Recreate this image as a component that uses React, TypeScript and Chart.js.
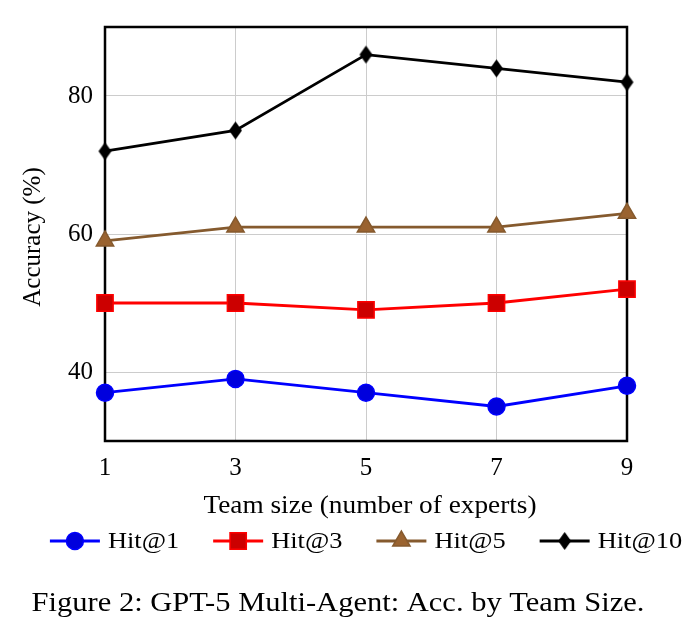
import { useEffect, useRef } from 'react';
import { Chart, registerables } from 'chart.js';
import { drawPoint } from 'chart.js/helpers';

Chart.register(...registerables);

// Team sizes on the x axis and accuracy (%) for each hit level
const teamSizes = [1, 3, 5, 7, 9];
const hit1 = [37, 39, 37, 35, 38];
const hit3 = [50, 50, 49, 50, 52];
const hit5 = [59, 61, 61, 61, 63];
const hit10 = [72, 75, 86, 84, 82];
const yTicks = [40, 60, 80];
const seriesNames = ['Hit@1', 'Hit@3', 'Hit@5', 'Hit@10'];
const xTitle = 'Team size (number of experts)';
const yTitle = 'Accuracy (%)';
const caption = 'Figure 2: GPT-5 Multi-Agent: Acc. by Team Size.';

const SERIF = "'Liberation Serif', 'Times New Roman', serif";

// Tall black diamond marker
function makeDiamond(w: number, h: number, color: string): HTMLCanvasElement {
  const c = document.createElement('canvas');
  c.width = w + 2;
  c.height = h + 2;
  const ctx = c.getContext('2d')!;
  ctx.fillStyle = color;
  ctx.beginPath();
  ctx.moveTo(c.width / 2, 1);
  ctx.lineTo(c.width - 1, c.height / 2);
  ctx.lineTo(c.width / 2, c.height - 1);
  ctx.lineTo(1, c.height / 2);
  ctx.closePath();
  ctx.fill();
  return c;
}

const toPoints = (ys: number[]) => ys.map((y, i) => ({ x: teamSizes[i], y }));

// Text drawn with a slight horizontal widening, like the wide serif of the figure
function wideText(
  ctx: CanvasRenderingContext2D,
  text: string,
  x: number,
  y: number,
  size: number,
  sx: number,
  align: 'left' | 'center',
  rotate = 0,
) {
  ctx.save();
  ctx.font = `${size}px ${SERIF}`;
  ctx.fillStyle = '#000';
  ctx.textBaseline = 'middle';
  ctx.textAlign = 'left';
  const w = ctx.measureText(text).width * sx;
  ctx.translate(x, y);
  if (rotate) ctx.rotate(rotate);
  ctx.translate(align === 'center' ? -w / 2 : 0, 0);
  ctx.scale(sx, 1);
  ctx.fillText(text, 0, 0);
  ctx.restore();
  return w;
}

// Frame around the plot area
const framePlugin = {
  id: 'frame',
  beforeDatasetsDraw(chart: any) {
    const { ctx, chartArea: a } = chart;
    ctx.save();
    ctx.strokeStyle = '#000';
    ctx.lineWidth = 2.5;
    ctx.strokeRect(a.left, a.top, a.right - a.left, a.bottom - a.top);
    ctx.restore();
  },
};

// Axis titles, horizontal legend (line sample with marker, then name) and caption
const textPlugin = {
  id: 'figureText',
  afterDraw(chart: any) {
    const { ctx, chartArea: a } = chart;
    const mid = (a.left + a.right) / 2;
    wideText(ctx, yTitle, 33, 237, 25, 1, 'center', -Math.PI / 2);
    wideText(ctx, xTitle, mid + 4, 506, 26, 1.05, 'center');

    const y = 541;
    const lineLen = 50;
    const textGap = 8;
    const colGap = 34;
    const sx = 1.1;
    ctx.save();
    ctx.font = `24px ${SERIF}`;
    const sets = chart.data.datasets;
    const widths = sets.map((d: any) => lineLen + textGap + ctx.measureText(d.label).width * sx);
    const total = widths.reduce((s: number, w: number) => s + w, 0) + colGap * (sets.length - 1);
    let x = mid - total / 2;
    sets.forEach((d: any, i: number) => {
      ctx.strokeStyle = d.borderColor;
      ctx.lineWidth = d.borderWidth;
      ctx.beginPath();
      ctx.moveTo(x, y);
      ctx.lineTo(x + lineLen, y);
      ctx.stroke();
      ctx.fillStyle = d.pointBackgroundColor;
      ctx.strokeStyle = d.pointBorderColor;
      ctx.lineWidth = d.pointBorderWidth;
      drawPoint(ctx, { pointStyle: d.pointStyle, radius: d.pointRadius, rotation: 0, borderWidth: d.pointBorderWidth }, x + lineLen / 2, y);
      wideText(ctx, d.label, x + lineLen + textGap, y + 1, 24, sx, 'left');
      x += widths[i] + colGap;
    });
    ctx.restore();

    wideText(ctx, caption, 338, 604, 27, 1.13, 'center');
  },
};

export default function App() {
  const ref = useRef<HTMLCanvasElement | null>(null);

  useEffect(() => {
    if (!ref.current) return;
    const diamond = makeDiamond(13, 18, '#000');
    const chart = new Chart(ref.current, {
      type: 'line',
      data: {
        datasets: [
          {
            label: seriesNames[0],
            data: toPoints(hit1),
            borderColor: '#0000ff',
            backgroundColor: '#0000dd',
            pointBackgroundColor: '#0000dd',
            pointBorderColor: '#0000ff',
            pointStyle: 'circle',
            pointRadius: 8.5,
            pointBorderWidth: 1.5,
            borderWidth: 2.8,
            clip: false,
          },
          {
            label: seriesNames[1],
            data: toPoints(hit3),
            borderColor: '#ff0000',
            backgroundColor: '#cc0000',
            pointBackgroundColor: '#cc0000',
            pointBorderColor: '#ff0000',
            pointStyle: 'rect',
            pointRadius: 11.5,
            pointBorderWidth: 1.5,
            borderWidth: 2.8,
            clip: false,
          },
          {
            label: seriesNames[2],
            data: toPoints(hit5),
            borderColor: '#855a2e',
            backgroundColor: '#9a6330',
            pointBackgroundColor: '#9a6330',
            pointBorderColor: '#855a2e',
            pointStyle: 'triangle',
            pointRadius: 10,
            pointBorderWidth: 1.5,
            borderWidth: 2.8,
            clip: false,
          },
          {
            label: seriesNames[3],
            data: toPoints(hit10),
            borderColor: '#000000',
            backgroundColor: '#000000',
            pointBackgroundColor: '#000000',
            pointBorderColor: '#000000',
            pointStyle: diamond as any,
            pointRadius: 9,
            pointBorderWidth: 1,
            borderWidth: 2.8,
            clip: false,
          },
        ] as any,
      },
      options: {
        responsive: false,
        animation: false,
        devicePixelRatio: 1,
        layout: { padding: { top: 22, right: 63, left: 0, bottom: 0 } },
        scales: {
          x: {
            type: 'linear',
            min: 1,
            max: 9,
            afterBuildTicks: (s: any) => {
              s.ticks = teamSizes.map((v) => ({ value: v }));
            },
            afterFit: (s: any) => {
              s.height = 193;
            },
            ticks: {
              font: { family: SERIF, size: 25 },
              color: '#000',
              padding: 12,
              maxRotation: 0,
              autoSkip: false,
            },
            grid: { color: '#cccccc', lineWidth: 1, drawTicks: false },
            border: { display: false },
          },
          y: {
            type: 'linear',
            min: 30,
            max: 90,
            afterBuildTicks: (s: any) => {
              s.ticks = yTicks.map((v) => ({ value: v }));
            },
            afterFit: (s: any) => {
              s.width = 105;
            },
            ticks: {
              font: { family: SERIF, size: 25 },
              color: '#000',
              padding: 12,
            },
            grid: { color: '#cccccc', lineWidth: 1, drawTicks: false },
            border: { display: false },
          },
        },
        plugins: {
          legend: { display: false },
          tooltip: { enabled: false },
        },
      } as any,
      plugins: [framePlugin, textPlugin],
    });
    return () => chart.destroy();
  }, []);

  return (
    <div style={{ position: 'fixed', left: 0, top: 0, width: 690, height: 634, background: '#fff' }}>
      <canvas ref={ref} width={690} height={634} />
    </div>
  );
}
